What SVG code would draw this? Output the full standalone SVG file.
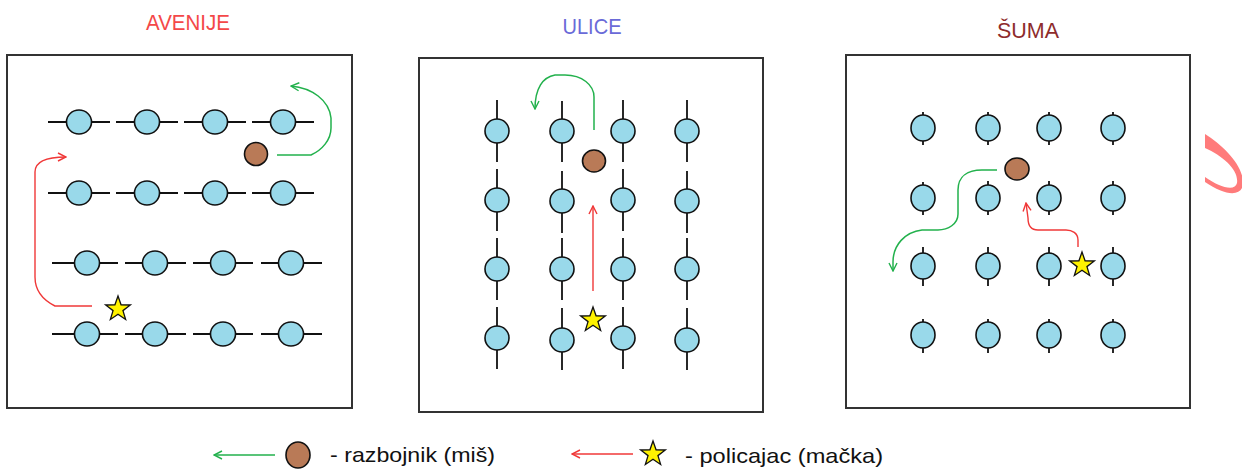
<svg xmlns="http://www.w3.org/2000/svg" xmlns:xlink="http://www.w3.org/1999/xlink" width="1242" height="469" viewBox="0 0 1242 469">
<style>
.box{fill:#fff;stroke:#333;stroke-width:2}
.node{fill:#99d9ea;stroke:#111;stroke-width:1.6}
.road{stroke:#111;stroke-width:1.8;fill:none}
.rob{fill:#b97a57;stroke:#111;stroke-width:1.6}
.star{fill:#fff200;stroke:#111;stroke-width:1.3;stroke-linejoin:miter}
.g{fill:none;stroke:#22b14c;stroke-width:1.5}
.r{fill:none;stroke:#f03838;stroke-width:1.4}
.title{font-family:"Liberation Sans",Arial,sans-serif;font-size:22px;text-anchor:middle}
.leg{font-family:"Liberation Sans",Arial,sans-serif;font-size:21px;fill:#111}
</style>
<defs>
<marker id="ag" viewBox="0 0 10 10" refX="9" refY="5" markerWidth="10" markerHeight="10" markerUnits="userSpaceOnUse" orient="auto"><path d="M1,1 L9,5 L1,9" fill="none" stroke="#22b14c" stroke-width="1.4"/></marker>
<marker id="ar" viewBox="0 0 10 10" refX="9" refY="5" markerWidth="10" markerHeight="10" markerUnits="userSpaceOnUse" orient="auto"><path d="M1,1 L9,5 L1,9" fill="none" stroke="#f03838" stroke-width="1.4"/></marker>
<polygon id="starShape" points="0,-13 3.06,-4.21 12.36,-4.02 4.95,1.61 7.64,10.52 0,5.2 -7.64,10.52 -4.95,1.61 -12.36,-4.02 -3.06,-4.21"/>
</defs>
<rect width="1242" height="469" fill="#fff"/>

<!-- titles -->
<text class="title" x="188" y="30" fill="#f44848" textLength="84" lengthAdjust="spacingAndGlyphs">AVENIJE</text>
<text class="title" x="592" y="34" fill="#6a6ad8" textLength="59" lengthAdjust="spacingAndGlyphs">ULICE</text>
<text class="title" x="1028" y="38" fill="#8e2c2c" textLength="62" lengthAdjust="spacingAndGlyphs">ŠUMA</text>

<!-- panel boxes -->
<g id="panel-avenije"><rect class="box" x="7" y="55" width="345" height="353"/></g>
<g id="panel-ulice"><rect class="box" x="419" y="58" width="344" height="354"/></g>
<g id="panel-suma"><rect class="box" x="846" y="55" width="344" height="353"/></g>

<!-- Panel 1 nodes: AVENIJE -->
<g id="avenije-nodes">
<g id="a11"><path class="road" d="M48,122H110"/><ellipse class="node" cx="79" cy="122" rx="12.5" ry="12"/></g>
<g id="a12"><path class="road" d="M116,122H178"/><ellipse class="node" cx="147" cy="122" rx="12.5" ry="12"/></g>
<g id="a13"><path class="road" d="M184,122H246"/><ellipse class="node" cx="215" cy="122" rx="12.5" ry="12"/></g>
<g id="a14"><path class="road" d="M252,122H314"/><ellipse class="node" cx="283" cy="122" rx="12.5" ry="12"/></g>
<g id="a21"><path class="road" d="M48,193H110"/><ellipse class="node" cx="79" cy="193" rx="12.5" ry="12"/></g>
<g id="a22"><path class="road" d="M116,193H178"/><ellipse class="node" cx="147" cy="193" rx="12.5" ry="12"/></g>
<g id="a23"><path class="road" d="M184,193H246"/><ellipse class="node" cx="215" cy="193" rx="12.5" ry="12"/></g>
<g id="a24"><path class="road" d="M252,193H314"/><ellipse class="node" cx="283" cy="193" rx="12.5" ry="12"/></g>
<g id="a31"><path class="road" d="M52,263H118"/><ellipse class="node" cx="87" cy="263" rx="12.5" ry="12"/></g>
<g id="a32"><path class="road" d="M125,263H186"/><ellipse class="node" cx="155" cy="263" rx="12.5" ry="12"/></g>
<g id="a33"><path class="road" d="M193,263H253"/><ellipse class="node" cx="223" cy="263" rx="12.5" ry="12"/></g>
<g id="a34"><path class="road" d="M261,263H322"/><ellipse class="node" cx="291" cy="263" rx="12.5" ry="12"/></g>
<g id="a41"><path class="road" d="M52,334H118"/><ellipse class="node" cx="87" cy="334" rx="12.5" ry="12"/></g>
<g id="a42"><path class="road" d="M125,334H186"/><ellipse class="node" cx="155" cy="334" rx="12.5" ry="12"/></g>
<g id="a43"><path class="road" d="M193,334H253"/><ellipse class="node" cx="223" cy="334" rx="12.5" ry="12"/></g>
<g id="a44"><path class="road" d="M261,334H322"/><ellipse class="node" cx="291" cy="334" rx="12.5" ry="12"/></g>
<g id="a-robber"><ellipse class="rob" cx="256" cy="154" rx="11.5" ry="11.5"/></g>
<g id="a-police"><use href="#starShape" class="star" transform="translate(118,309)"/></g>
</g>

<!-- Panel 2 nodes: ULICE -->
<g id="ulice-nodes">
<g id="u11"><path class="road" d="M497,100V162"/><ellipse class="node" cx="497" cy="131" rx="12" ry="12"/></g>
<g id="u21"><path class="road" d="M497,169V231"/><ellipse class="node" cx="497" cy="200" rx="12" ry="12"/></g>
<g id="u31"><path class="road" d="M497,238V300"/><ellipse class="node" cx="497" cy="269" rx="12" ry="12"/></g>
<g id="u41"><path class="road" d="M497,307V369"/><ellipse class="node" cx="497" cy="338" rx="12" ry="12"/></g>
<g id="u12"><path class="road" d="M562,101V162"/><ellipse class="node" cx="562" cy="131" rx="12" ry="12"/></g>
<g id="u22"><path class="road" d="M562,171V233"/><ellipse class="node" cx="562" cy="201" rx="12" ry="12"/></g>
<g id="u32"><path class="road" d="M562,238V300"/><ellipse class="node" cx="562" cy="269" rx="12" ry="12"/></g>
<g id="u42"><path class="road" d="M562,308V370"/><ellipse class="node" cx="562" cy="340" rx="12" ry="12"/></g>
<g id="u13"><path class="road" d="M623,100V162"/><ellipse class="node" cx="623" cy="131" rx="12" ry="12"/></g>
<g id="u23"><path class="road" d="M623,169V231"/><ellipse class="node" cx="623" cy="200" rx="12" ry="12"/></g>
<g id="u33"><path class="road" d="M623,238V300"/><ellipse class="node" cx="623" cy="269" rx="12" ry="12"/></g>
<g id="u43"><path class="road" d="M623,307V369"/><ellipse class="node" cx="623" cy="338" rx="12" ry="12"/></g>
<g id="u14"><path class="road" d="M687,100V162"/><ellipse class="node" cx="687" cy="131" rx="12" ry="12"/></g>
<g id="u24"><path class="road" d="M687,171V233"/><ellipse class="node" cx="687" cy="201" rx="12" ry="12"/></g>
<g id="u34"><path class="road" d="M687,238V300"/><ellipse class="node" cx="687" cy="269" rx="12" ry="12"/></g>
<g id="u44"><path class="road" d="M687,308V370"/><ellipse class="node" cx="687" cy="340" rx="12" ry="12"/></g>
<g id="u-robber"><ellipse class="rob" cx="594" cy="161" rx="11.5" ry="11"/></g>
<g id="u-police"><use href="#starShape" class="star" transform="translate(593,320)"/></g>
</g>

<!-- Panel 3 nodes: ŠUMA -->
<g id="suma-nodes">
<g id="s11"><path class="road" d="M923,112V145"/><ellipse class="node" cx="923" cy="128" rx="12" ry="13"/></g>
<g id="s12"><path class="road" d="M988,112V145"/><ellipse class="node" cx="988" cy="128" rx="12" ry="13"/></g>
<g id="s13"><path class="road" d="M1049,112V145"/><ellipse class="node" cx="1049" cy="128" rx="12" ry="13"/></g>
<g id="s14"><path class="road" d="M1113,112V145"/><ellipse class="node" cx="1113" cy="128" rx="12" ry="13"/></g>
<g id="s21"><path class="road" d="M923,182V215"/><ellipse class="node" cx="923" cy="198" rx="12" ry="13"/></g>
<g id="s22"><path class="road" d="M988,181V215"/><ellipse class="node" cx="988" cy="198" rx="12" ry="13"/></g>
<g id="s23"><path class="road" d="M1049,181V215"/><ellipse class="node" cx="1049" cy="198" rx="12" ry="13"/></g>
<g id="s24"><path class="road" d="M1113,181V215"/><ellipse class="node" cx="1113" cy="198" rx="12" ry="13"/></g>
<g id="s31"><path class="road" d="M923,247V286"/><ellipse class="node" cx="923" cy="266" rx="12" ry="13"/></g>
<g id="s32"><path class="road" d="M988,247V286"/><ellipse class="node" cx="988" cy="266" rx="12" ry="13"/></g>
<g id="s33"><path class="road" d="M1049,247V286"/><ellipse class="node" cx="1049" cy="266" rx="12" ry="13"/></g>
<g id="s34"><path class="road" d="M1113,247V286"/><ellipse class="node" cx="1113" cy="266" rx="12" ry="13"/></g>
<g id="s41"><path class="road" d="M923,319V353"/><ellipse class="node" cx="923" cy="335" rx="12" ry="13"/></g>
<g id="s42"><path class="road" d="M988,319V353"/><ellipse class="node" cx="988" cy="335" rx="12" ry="13"/></g>
<g id="s43"><path class="road" d="M1049,319V353"/><ellipse class="node" cx="1049" cy="335" rx="12" ry="13"/></g>
<g id="s44"><path class="road" d="M1113,319V353"/><ellipse class="node" cx="1113" cy="335" rx="12" ry="13"/></g>
<g id="s-robber"><ellipse class="rob" cx="1017" cy="169" rx="12" ry="11"/></g>
<g id="s-police"><use href="#starShape" class="star" transform="translate(1082,265)"/></g>
</g>

<!-- connectors -->
<g id="connectors">
<path class="g" marker-end="url(#ag)" d="M277,155 L311,155 C322,150 331,140 331,128 L331,118 C329,100 312,88 291,86"/>
<path class="r" marker-end="url(#ar)" d="M92,306 L55,306 C43,300 35,290 35,277 L35,172 C35,162 45,157 66,157"/>
<path class="g" marker-end="url(#ag)" d="M594,130 L594,97 C594,85 582,75 565,75 L555,75 C543,77 535,88 535,109"/>
<path class="r" marker-end="url(#ar)" d="M593,291 L593,206"/>
<path class="g" marker-end="url(#ag)" d="M997,170 L982,170 C968,170 958,176 958,190 L958,214 C958,224 948,230 938,230 L922,230 C905,232 893,245 893,262 L893,271"/>
<path class="r" marker-end="url(#ar)" d="M1078,247 L1078,240 C1078,233 1072,230 1066,230 L1038,230 C1031,230 1028,225 1028,218 L1026,203"/>
</g>

<!-- stray pink stroke at right edge -->
<path d="M1205,134 C1224,146 1244,166 1243,184 C1242,197 1225,196 1205,182 L1205,177 C1219,187 1235,192 1237,183 C1239,170 1223,156 1205,148 Z" fill="#ff7b7b"/>

<!-- legend -->
<g id="legend">
<path class="g" marker-end="url(#ag)" d="M275,455 L214,455"/>
<ellipse class="rob" cx="298" cy="455" rx="12" ry="13"/>
<text class="leg" x="330" y="462" textLength="165" lengthAdjust="spacingAndGlyphs">- razbojnik (miš)</text>
<path class="r" marker-end="url(#ar)" d="M633,454 L572,454"/>
<use href="#starShape" class="star" transform="translate(653,454)"/>
<text class="leg" x="685" y="463" textLength="198" lengthAdjust="spacingAndGlyphs">- policajac (mačka)</text>
</g>
</svg>
